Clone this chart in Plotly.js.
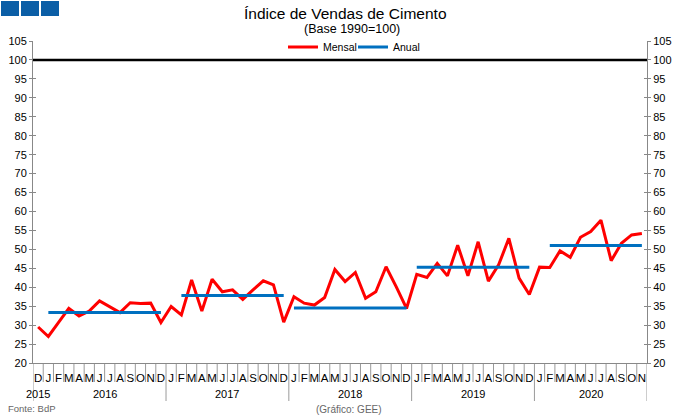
<!DOCTYPE html>
<html>
<head>
<meta charset="utf-8">
<script src="https://cdn.plot.ly/plotly-3.0.1.min.js"></script>
<style>html,body{margin:0;padding:0;background:#fff;}#chart{width:680px;height:416px;}</style>
</head>
<body>
<div id="chart"></div>
<script>
// ---- data ----
const monthLetters = ['J','F','M','A','M','J','J','A','S','O','N','D'];
const years = ['2015','2016','2017','2018','2019','2020'];
const mensal2015 = [29.5]; // December only
const mensal2016 = [27.0, 30.7, 34.4, 32.4, 33.7, 36.4, 34.9, 33.3, 35.9, 35.7, 35.8, 30.7];
const mensal2017 = [34.9, 32.7, 41.9, 33.7, 42.1, 38.8, 39.3, 36.8, 39.3, 41.7, 40.6, 30.8];
const mensal2018 = [37.5, 35.8, 35.3, 37.3, 44.7, 41.5, 43.9, 37.1, 38.8, 45.4, 40.1, 34.4];
const mensal2019 = [43.4, 42.6, 46.3, 43.0, 51.1, 43.0, 52.0, 41.6, 45.9, 52.9, 42.4, 38.1];
const mensal2020 = [45.3, 45.2, 49.6, 47.9, 53.2, 54.7, 57.7, 47.0, 51.6, 53.8, 54.2];
const mensalFirstMonth = [12, 1, 1, 1, 1, 1];
const anualYears = ['2016','2017','2018','2019','2020'];
const anualValues = [33.3, 37.8, 34.5, 45.3, 51.0];
const anualFirstMonth = [1, 2, 1, 1, 2];
const anualLastMonth = [12, 12, 12, 12, 11];
const baseValue = 100;
const yTickVals = [20,25,30,35,40,45,50,55,60,65,70,75,80,85,90,95,100,105];

// ---- build categories ----
const mensalByYear = [mensal2015, mensal2016, mensal2017, mensal2018, mensal2019, mensal2020];
const idx = [], ticktext = [], mensalY = [], catYear = [], catMonth = [];
mensalByYear.forEach((arr, yi) => {
  arr.forEach((v, k) => {
    const m = mensalFirstMonth[yi] + k;
    idx.push(idx.length);
    ticktext.push(monthLetters[m - 1]);
    mensalY.push(v);
    catYear.push(years[yi]);
    catMonth.push(m);
  });
});
function findIdx(y, m) { for (let i = 0; i < idx.length; i++) if (catYear[i] === y && catMonth[i] === m) return i; return null; }

const anualX = [], anualY = [];
anualYears.forEach((y, i) => {
  anualX.push(findIdx(y, anualFirstMonth[i]), findIdx(y, anualLastMonth[i]), null);
  anualY.push(anualValues[i], anualValues[i], null);
});

const N = idx.length;
const FONT = 'Liberation Sans, Arial, sans-serif';
const plotH = 322;
const pxY = (px) => px / plotH; // pixel offset to paper

// ---- separators / year dividers / year labels ----
const shapes = [];
const annotations = [];
const gray = '#9a9a9a';
for (let i = 0; i <= N; i++) {
  const b = i - 0.5;
  const isYearEdge = (i === 0 || i === N || (i > 0 && catYear[i] !== catYear[i - 1] && catYear[i - 1] !== '2015'));
  shapes.push({type:'line', xref:'x', yref:'paper', x0:b, x1:b, y0:0, y1: -pxY(isYearEdge ? 38 : 19),
    line:{color:gray, width:1}, layer:'below'});
}
years.forEach((y) => {
  const members = idx.filter(i => catYear[i] === y);
  const c = (members[0] + members[members.length - 1]) / 2;
  annotations.push({text:y, xref:'x', yref:'paper', x:c, y:-pxY(31), xanchor:'center', yanchor:'middle',
    showarrow:false, font:{family:FONT, size:11, color:'#000'}});
});
// base line
shapes.push({type:'line', xref:'paper', yref:'y', x0:0, x1:1, y0:baseValue, y1:baseValue, line:{color:'#000', width:2.5}});
// header blocks
[0,1,2].forEach(k => {
  shapes.push({type:'rect', xref:'paper', yref:'paper',
    x0:(1 + 20*k - 33)/614, x1:(19 + 20*k - 33)/614,
    y0:(363-16)/plotH, y1:(363-1)/plotH, fillcolor:'#0b5ea6', line:{width:0}});
});
// titles
annotations.push({text:'Índice de Vendas de Cimento', xref:'paper', yref:'paper', x:(345-33)/614, y:(363-13)/plotH,
  xanchor:'center', yanchor:'middle', showarrow:false, font:{family:FONT, size:15.5, color:'#000'}});
annotations.push({text:'(Base 1990=100)', xref:'paper', yref:'paper', x:(352-33)/614, y:(363-29)/plotH,
  xanchor:'center', yanchor:'middle', showarrow:false, font:{family:FONT, size:12.5, color:'#000'}});
annotations.push({text:'Fonte: BdP', xref:'paper', yref:'paper', x:(6-33)/614, y:(363-408)/plotH,
  xanchor:'left', yanchor:'middle', showarrow:false, font:{family:FONT, size:9.5, color:'#666'}});
annotations.push({text:'(Gráfico: GEE)', xref:'paper', yref:'paper', x:(349-33)/614, y:(363-409)/plotH,
  xanchor:'center', yanchor:'middle', showarrow:false, font:{family:FONT, size:10, color:'#666'}});

const traces = [
  {x: idx, y: mensalY, type:'scatter', mode:'lines', name:'Mensal', line:{color:'#ff0000', width:3}, hoverinfo:'skip'},
  {x: anualX, y: anualY, type:'scatter', mode:'lines', name:'Anual', line:{color:'#0070c0', width:3}, hoverinfo:'skip'},
  {x: [], y: [], xaxis:'x', yaxis:'y2', showlegend:false},
  {x: [], y: [], xaxis:'x', yaxis:'y3', showlegend:false},
  {x: [], y: [], xaxis:'x', yaxis:'y4', showlegend:false}
];

const yBase = {range:[20,105], tickvals:yTickVals, showgrid:false, zeroline:false, fixedrange:true,
  linecolor:'#888', linewidth:1, tickcolor:'#888', ticklen:3, tickwidth:1,
  tickfont:{family:FONT, size:11, color:'#000'}};

const layout = {
  width:680, height:416,
  margin:{l:33, r:33, t:41, b:53},
  paper_bgcolor:'#fff', plot_bgcolor:'#fff',
  showlegend:true,
  legend:{orientation:'h', x:(283-33)/614, xanchor:'left', y:(363-47)/plotH, yanchor:'middle',
    bgcolor:'rgba(0,0,0,0)', font:{family:FONT, size:10.5, color:'#000'}, itemwidth:30, tracegroupgap:0,
    entrywidth:25, entrywidthmode:'pixels'},
  xaxis:{range:[-0.5, N - 0.5], tickvals:idx, ticktext:ticktext, ticks:'', showgrid:false, zeroline:false,
    showline:true, linecolor:'#888', linewidth:1, tickfont:{family:FONT, size:11.5, color:'#000'}, tickangle:0,
    ticklabelstandoff:4},
  yaxis:Object.assign({}, yBase, {side:'left', ticks:'outside', showline:true}),
  yaxis2:Object.assign({}, yBase, {side:'right', overlaying:'y', ticks:'outside', showline:true}),
  yaxis3:Object.assign({}, yBase, {side:'left', overlaying:'y', ticks:'inside', showticklabels:false, showline:false}),
  yaxis4:Object.assign({}, yBase, {side:'right', overlaying:'y', ticks:'inside', showticklabels:false, showline:false}),
  shapes:shapes,
  annotations:annotations
};

Plotly.newPlot('chart', traces, layout, {displayModeBar:false, staticPlot:true});
</script>
</body>
</html>
